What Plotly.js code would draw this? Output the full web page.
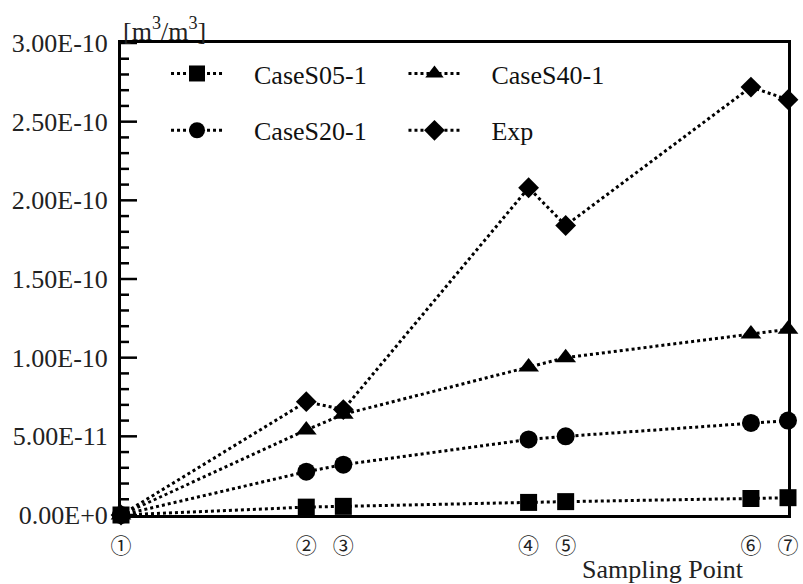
<!DOCTYPE html>
<html>
<head>
<meta charset="utf-8">
<script src="https://cdn.plot.ly/plotly-3.0.1.min.js"></script>
<style>html,body{margin:0;padding:0;background:#fff;}#chart{width:803px;height:584px;}</style>
</head>
<body>
<div id="chart"></div>
<script>
// Sampling point positions and labels
const pointPos = [0, 5, 6, 11, 12, 17, 18];
const pointLabels = ['①', '②', '③', '④', '⑤', '⑥', '⑦'];

// Series values [m3/m3]
const caseS05 = [0, 5.0e-12, 5.5e-12, 8.0e-12, 8.5e-12, 1.05e-11, 1.1e-11];
const caseS20 = [0, 2.75e-11, 3.2e-11, 4.8e-11, 5.0e-11, 5.85e-11, 6.0e-11];
const caseS40 = [0, 5.4e-11, 6.4e-11, 9.4e-11, 1.0e-10, 1.15e-10, 1.18e-10];
const expData = [0, 7.2e-11, 6.7e-11, 2.08e-10, 1.84e-10, 2.72e-10, 2.64e-10];

// Y tick labels
const yTickVals = [0, 5e-11, 1e-10, 1.5e-10, 2e-10, 2.5e-10, 3e-10];
const yTickText = ['0.00E+0', '5.00E-11', '1.00E-10', '1.50E-10', '2.00E-10', '2.50E-10', '3.00E-10'];
const yMinorVals = [1e-11, 2e-11, 3e-11, 4e-11, 6e-11, 7e-11, 8e-11, 9e-11,
  1.1e-10, 1.2e-10, 1.3e-10, 1.4e-10, 1.6e-10, 1.7e-10, 1.8e-10, 1.9e-10,
  2.1e-10, 2.2e-10, 2.3e-10, 2.4e-10, 2.6e-10, 2.7e-10, 2.8e-10, 2.9e-10];

const serif = 'Liberation Serif';
const lineStyle = {color: '#000', width: 3, dash: 'dot'};

function tr(name, y, symbol, size, legend, group) {
  return {
    x: pointPos, y: y, name: '\u2003' + name, type: 'scatter', mode: 'lines+markers',
    line: lineStyle, marker: {symbol: symbol, size: size, color: '#000'},
    cliponaxis: false, legend: legend, legendgroup: group
  };
}

const data = [
  tr('CaseS05-1', caseS05, 'square', 17, 'legend', 'a'),
  tr('CaseS20-1', caseS20, 'circle', 18, 'legend', 'b'),
  tr('CaseS40-1', caseS40, 'triangle-up', 18, 'legend2', 'c'),
  tr('Exp', expData, 'diamond', 16, 'legend2', 'd')
];

const legendBase = {
  orientation: 'v', bgcolor: 'rgba(0,0,0,0)', borderwidth: 0,
  font: {family: serif, size: 26, color: '#111'},
  itemwidth: 52, tracegroupgap: 20, yanchor: 'top', xanchor: 'left',
  xref: 'paper', yref: 'paper'
};

// Inside y-axis tick marks, placed at the axis values
function tickShape(v, len) {
  return {type: 'line', xref: 'paper', yref: 'y', x0: 0, x1: len / 667, y0: v, y1: v,
          line: {color: '#000', width: 2.5}, layer: 'above'};
}
const tickShapes = yTickVals.map(function (v) { return tickShape(v, 16); })
  .concat(yMinorVals.map(function (v) { return tickShape(v, 8); }));

const layout = {
  width: 803, height: 584,
  margin: {l: 121, r: 15, t: 43, b: 69},
  paper_bgcolor: '#fff', plot_bgcolor: '#fff',
  font: {family: serif, size: 26, color: '#111'},
  showlegend: true,
  legend: Object.assign({}, legendBase, {x: 0.0675, y: 0.985}),
  legend2: Object.assign({}, legendBase, {x: 0.4235, y: 0.985}),
  xaxis: {
    range: [0, 18], tickmode: 'array', tickvals: pointPos, ticktext: pointLabels,
    showgrid: false, zeroline: false, showline: true, linecolor: '#000', linewidth: 3,
    mirror: true, ticks: '', ticklabelstandoff: 10,
    tickfont: {family: 'Noto Sans CJK JP', size: 21, color: '#222'}
  },
  yaxis: {
    range: [0, 3e-10], tickmode: 'array', tickvals: yTickVals, ticktext: yTickText,
    showgrid: false, zeroline: false, showline: true, linecolor: '#000', linewidth: 3,
    mirror: true, ticks: '', ticklabelstandoff: 5,
    tickfont: {family: serif, size: 26, color: '#222'}
  },
  shapes: tickShapes,
  annotations: [
    {text: '[m<sup>3</sup>/m<sup>3</sup>]', xref: 'paper', yref: 'paper', x: 0, y: 1,
     xanchor: 'left', yanchor: 'bottom', showarrow: false, yshift: -5,
     font: {family: serif, size: 26, color: '#222'}},
    {text: 'Sampling Point', xref: 'paper', yref: 'paper', x: 0.937, y: 0,
     xanchor: 'right', yanchor: 'top', showarrow: false, yshift: -38,
     font: {family: serif, size: 26, color: '#222'}}
  ]
};

Plotly.newPlot('chart', data, layout, {displayModeBar: false});
</script>
</body>
</html>
